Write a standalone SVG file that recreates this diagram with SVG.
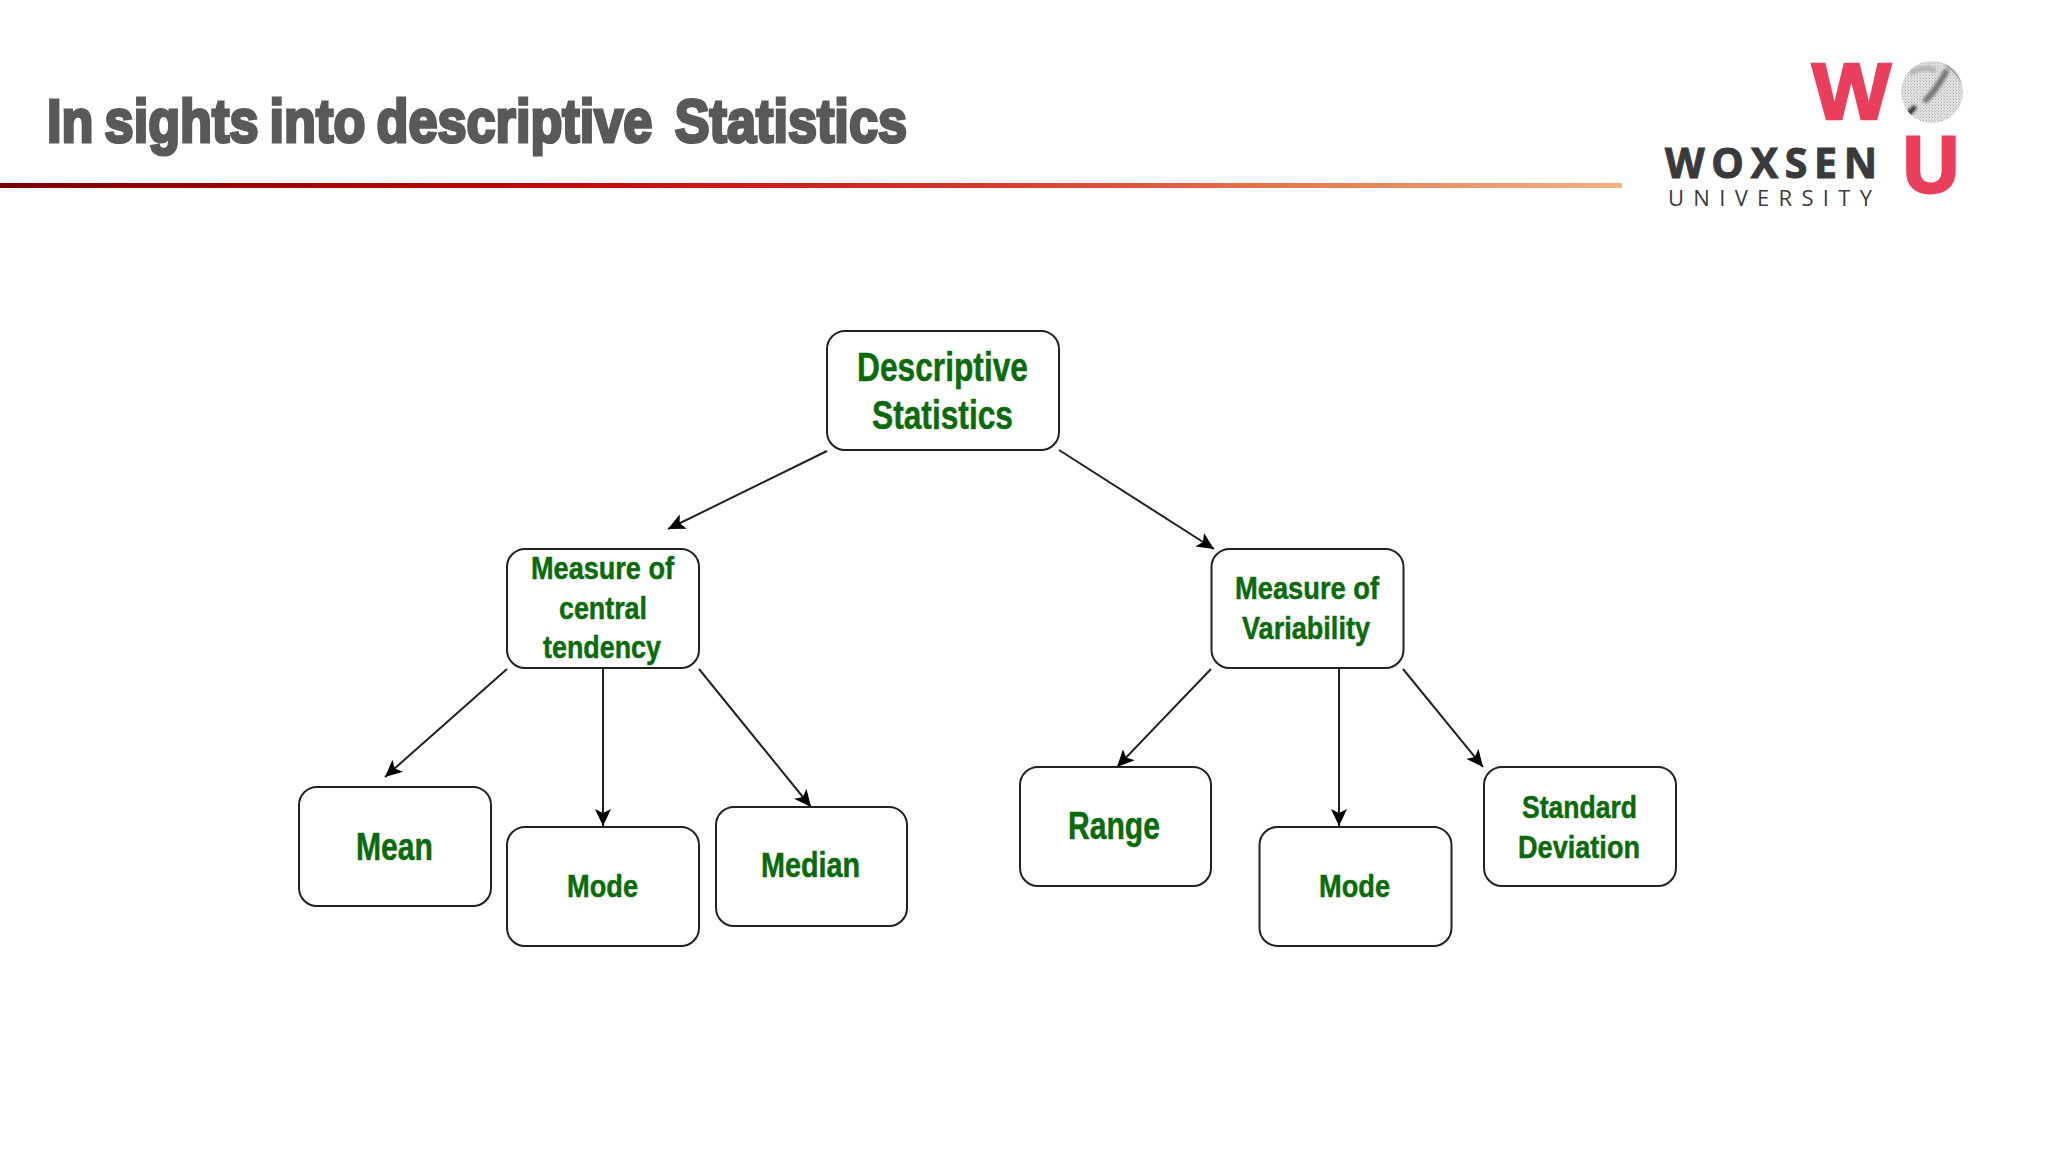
<svg xmlns="http://www.w3.org/2000/svg" width="2048" height="1152" viewBox="0 0 2048 1152">
<style>
.n{fill:#fff;stroke:#222;stroke-width:2}
.t{font-family:"Liberation Sans",Arial,sans-serif;font-weight:700;fill:#0b6b0b;stroke:#0b6b0b;stroke-width:.5}
.c{stroke:#222;stroke-width:2;fill:none;marker-end:url(#a)}
.h{font-family:"Liberation Sans",Arial,sans-serif;font-weight:700;fill:#595959;stroke:#595959;stroke-width:3.2;font-size:62px;white-space:pre;word-spacing:-4px}
.r{font-family:"Liberation Sans",Arial,sans-serif;font-weight:700;fill:#ea3f5c;stroke:#ea3f5c}
.x{font-family:"Open Sans","Liberation Sans",sans-serif;fill:#3a3a3c}
</style>
<defs>
<marker id="a" markerUnits="userSpaceOnUse" markerWidth="18" markerHeight="16" refX="17" refY="8" orient="auto"><path d="M0 0L17 8L0 16L4 8Z" fill="#000"/></marker>
<linearGradient id="g" x1="0" x2="1" y1="0" y2="0"><stop offset="0" stop-color="#7a0000"/><stop offset=".35" stop-color="#c00a0a"/><stop offset=".6" stop-color="#d0392c"/><stop offset=".8" stop-color="#e5794f"/><stop offset="1" stop-color="#f4b183"/></linearGradient>
<linearGradient id="m" x1="0" y1="0" x2="1" y2="1"><stop offset="0" stop-color="#cfcfcf"/><stop offset=".5" stop-color="#e6e6e6"/><stop offset="1" stop-color="#bdbdbd"/></linearGradient>
<pattern id="ht" width="3" height="3" patternUnits="userSpaceOnUse"><rect width="3" height="3" fill="url(#m)"/><rect width="1" height="1" fill="#8f8f8f" opacity=".55"/></pattern>
<filter id="s"><feGaussianBlur stdDeviation="1.500"/></filter>
<clipPath id="cc"><circle cx="1932" cy="92" r="31"/></clipPath>
</defs>
<rect width="2048" height="1152" fill="#fff"/>
<text class="h" x="47" y="142" textLength="860" lengthAdjust="spacingAndGlyphs">In sights into descriptive  Statistics</text>
<rect x="0" y="183" width="1622" height="5" fill="url(#g)"/>
<g id="logo">
<text class="r" x="1812" y="119" font-size="80" stroke-width="2.500" textLength="79" lengthAdjust="spacingAndGlyphs">W</text>
<circle cx="1932" cy="92" r="31" fill="url(#ht)"/>
<g clip-path="url(#cc)" fill="none" stroke-linecap="round" filter="url(#s)"><path d="M1946 72Q1936 90 1926 100" stroke="#777" stroke-width="6"/><path d="M1914 108L1905 117" stroke="#333" stroke-width="5"/><path d="M1948 64Q1958 70 1964 82" stroke="#888" stroke-width="5"/><path d="M1912 72Q1925 66 1934 70" stroke="#b0b0b0" stroke-width="5"/></g>
<text class="r" x="1903" y="192" font-size="80" stroke-width="3" textLength="56" lengthAdjust="spacingAndGlyphs">U</text>
<text class="x" x="1665" y="178" font-size="41" font-weight="700" stroke="#3a3a3c" stroke-width="1" textLength="212" lengthAdjust="spacing">WOXSEN</text>
<text class="x" x="1668" y="206" font-size="22" textLength="204" lengthAdjust="spacing">UNIVERSITY</text>
</g>
<g id="connectors">
<line class="c" x1="827" y1="451" x2="668" y2="529"/>
<line class="c" x1="1059" y1="450" x2="1214" y2="549"/>
<line class="c" x1="507" y1="669" x2="385" y2="777"/>
<line class="c" x1="603" y1="669" x2="603" y2="826"/>
<line class="c" x1="699" y1="669" x2="811" y2="807"/>
<line class="c" x1="1211" y1="669" x2="1117" y2="767"/>
<line class="c" x1="1339" y1="669" x2="1339" y2="826"/>
<line class="c" x1="1403" y1="669" x2="1483" y2="767"/>
</g>
<g id="n-descriptive"><rect class="n" x="827" y="331" width="232" height="119" rx="18"/>
<text class="t" x="857" y="381" font-size="40" textLength="171" lengthAdjust="spacingAndGlyphs">Descriptive</text>
<text class="t" x="872" y="429" font-size="40" textLength="141" lengthAdjust="spacingAndGlyphs">Statistics</text></g>
<g id="n-central"><rect class="n" x="507" y="549" width="192" height="119" rx="18"/>
<text class="t" x="531" y="579" font-size="32" textLength="143" lengthAdjust="spacingAndGlyphs">Measure of</text>
<text class="t" x="559" y="619" font-size="32" textLength="88" lengthAdjust="spacingAndGlyphs">central</text>
<text class="t" x="543" y="658" font-size="32" textLength="118" lengthAdjust="spacingAndGlyphs">tendency</text></g>
<g id="n-variability"><rect class="n" x="1211.500" y="549" width="192" height="119" rx="18"/>
<text class="t" x="1235" y="599" font-size="32" textLength="144" lengthAdjust="spacingAndGlyphs">Measure of</text>
<text class="t" x="1242" y="639" font-size="32" textLength="128" lengthAdjust="spacingAndGlyphs">Variability</text></g>
<g id="n-mean"><rect class="n" x="299" y="787" width="192" height="119" rx="18"/>
<text class="t" x="356" y="860" font-size="38" textLength="77" lengthAdjust="spacingAndGlyphs">Mean</text></g>
<g id="n-mode1"><rect class="n" x="507" y="827" width="192" height="119" rx="18"/>
<text class="t" x="567" y="897" font-size="32" textLength="71" lengthAdjust="spacingAndGlyphs">Mode</text></g>
<g id="n-median"><rect class="n" x="716" y="807" width="191" height="119" rx="18"/>
<text class="t" x="761" y="877" font-size="35" textLength="99" lengthAdjust="spacingAndGlyphs">Median</text></g>
<g id="n-range"><rect class="n" x="1020" y="767" width="191" height="119" rx="18"/>
<text class="t" x="1068" y="839" font-size="38" textLength="92" lengthAdjust="spacingAndGlyphs">Range</text></g>
<g id="n-mode2"><rect class="n" x="1259.500" y="827" width="192" height="119" rx="18"/>
<text class="t" x="1319" y="897" font-size="32" textLength="71" lengthAdjust="spacingAndGlyphs">Mode</text></g>
<g id="n-std"><rect class="n" x="1484" y="767" width="192" height="119" rx="18"/>
<text class="t" x="1522" y="818" font-size="32" textLength="115" lengthAdjust="spacingAndGlyphs">Standard</text>
<text class="t" x="1518" y="858" font-size="32" textLength="122" lengthAdjust="spacingAndGlyphs">Deviation</text></g>
</svg>
